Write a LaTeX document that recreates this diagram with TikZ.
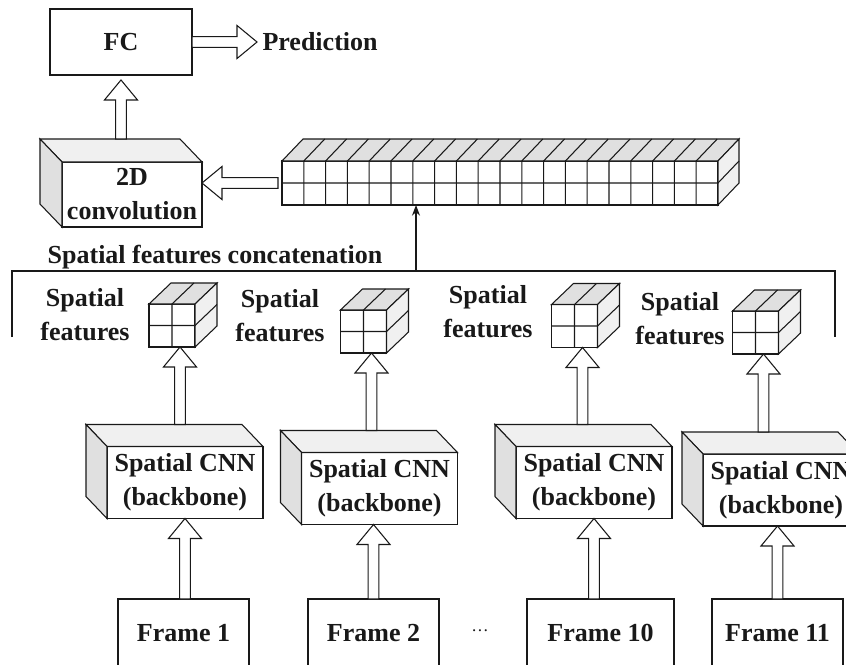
\documentclass[tikz,border=0pt]{standalone}
\usepackage{fontspec}
\setmainfont{Liberation Serif}
\usepackage{xcolor}
\usepackage{tikz}
\usetikzlibrary{arrows.meta, positioning, calc}
\definecolor{faceTop}{RGB}{224,224,224}
\definecolor{faceSide}{RGB}{240,240,240}
\definecolor{lineInk}{RGB}{25,25,25}
\newdimen\pxu \pxu=0.75pt

% hollow block arrow from #1 to the tip #2
\newcommand{\fatarrow}[2]{%
  \coordinate (fa-h) at ($(#2)!15pt!(#1)$);
  \draw[hollow] ($(#1)!4pt!90:(#2)$) -- ($(fa-h)!4pt!90:(#2)$)
    -- ($(fa-h)!12.4pt!90:(#2)$) -- (#2) -- ($(fa-h)!12.4pt!-90:(#2)$)
    -- ($(fa-h)!4pt!-90:(#2)$) -- ($(#1)!4pt!-90:(#2)$) -- cycle;}

% top and right faces of a cell block, front face is node #1
\newcommand{\gridblock}[4]{%
  \draw[fill=faceTop] (#1.north west) -- (#1.north east) -- ++(#4)
    -- ($(#1.north west)+(#4)$) -- cycle;
  \draw[fill=faceSide] (#1.north east) -- (#1.south east) -- ++(#4)
    -- ($(#1.north east)+(#4)$) -- cycle;
  \pgfmathtruncatemacro\lastc{#2-1}
  \pgfmathtruncatemacro\lastr{#3-1}
  \foreach \c in {1,...,\lastc}
    \draw ($(#1.south west)!{\c/#2}!(#1.south east)$)
      -- ($(#1.north west)!{\c/#2}!(#1.north east)$) -- ++(#4);
  \foreach \r in {1,...,\lastr}
    \draw ($(#1.north west)!{\r/#3}!(#1.south west)$)
      -- ($(#1.north east)!{\r/#3}!(#1.south east)$) -- ++(#4);}

% top and left faces of a solid box, front face is node #1
\newcommand{\slab}[2]{%
  \draw[fill=faceSide] (#1.north west) -- (#1.north east) -- ++(#2)
    -- ($(#1.north west)+(#2)$) -- cycle;
  \draw[fill=faceTop] (#1.north west) -- (#1.south west) -- ++(#2)
    -- ($(#1.north west)+(#2)$) -- cycle;}

\begin{document}
\begin{tikzpicture}[x=0.75pt,y=-0.75pt,line width=0.8pt,color=lineInk,
  font=\bfseries\fontsize{19.5}{25.5}\selectfont,
  boxnode/.style={draw,fill=white,inner sep=0pt,outer sep=0pt,align=center},
  hollow/.style={draw,fill=white,line join=miter},
  cnnbox/.style={boxnode,minimum width=156\pxu,minimum height=72\pxu},
  framebox/.style={boxnode,minimum width=131\pxu,minimum height=68\pxu},
  cube/.style={boxnode,minimum width=46\pxu,minimum height=43\pxu},
  thinarrow/.style={-{Stealth[length=8pt,width=6pt]},line width=0.9pt}]
\useasboundingbox (0,0) rectangle (846,664);
\clip (0,0) rectangle (846,664);

% ===== Classifier head =====
\node[boxnode,minimum width=142\pxu,minimum height=66\pxu] (fc) at (121,42) {FC};
\node[anchor=west,inner sep=0pt] (pred) at (262,42) {Prediction};
\coordinate (predtip) at ($(pred.west)+(-5,0)$);
\fatarrow{fc.east}{predtip}

\node[boxnode,minimum width=140\pxu,minimum height=65\pxu] (conv) at (132,194.5)
  {2D\\convolution};
\slab{conv}{-22,-23}
\coordinate (convtop) at ($(conv.north)+(-11,-23)$);
\coordinate (fcin) at ($(fc.south)+(0,5)$);
\fatarrow{convtop}{convtop |- fcin}

% ===== Concatenated features =====
\node[boxnode,minimum width=436\pxu,minimum height=44\pxu] (tensor) at (500,183) {};
\gridblock{tensor}{20}{2}{21,-22}
\coordinate (tensorout) at ($(tensor.west)+(-4,0)$);
\fatarrow{tensorout}{conv.east |- tensor.west}

\node (concat) at (215,257) {Spatial features concatenation};
\coordinate (joinL) at (12,337);
\coordinate (joinR) at (835,337);
\draw (joinL) -- ++(0,-66) -| (joinR);
\coordinate (joinmid) at (416,271);
\draw[thinarrow] (joinmid) -- (joinmid |- tensor.south);

% ===== Per-frame branches =====
\foreach \k/\cx/\cy/\lx/\ly in {1/172/325.5/85/314.5, 2/363.5/331.5/280/316,
                                3/574.5/326/488/311.5, 4/755.5/332.5/680/319} {
  \node[cube] (sf\k) at (\cx,\cy) {};
  \gridblock{sf\k}{2}{2}{22,-21}
  \node[align=center,inner sep=0pt] (lab\k) at (\lx,\ly) {Spatial\\features};
}

\foreach \k/\bx/\by in {1/185/482.5, 2/379.5/488.5, 3/594/482.5, 4/781/490} {
  \node[cnnbox] (cnn\k) at (\bx,\by) {Spatial CNN\\(backbone)};
  \slab{cnn\k}{-21,-22}
  \coordinate (tip\k) at ($(sf\k.south)+(8,0)$);
  \coordinate (tail\k) at ($(cnn\k.north)+(0,-22)$);
  \fatarrow{tip\k |- tail\k}{tip\k}
}

\node[framebox] (fr1) at (183.5,633) {Frame 1};
\node[framebox] (fr2) at (373.5,633) {Frame 2};
\node[framebox,minimum width=147\pxu] (fr10) at (600.5,633) {Frame 10};
\node[framebox] (fr11) at (777.5,633) {Frame 11};
\node (dots) at (480,631) {\mdseries\fontsize{13}{15}\selectfont\ldots};

\fatarrow{cnn1.south |- fr1.north}{cnn1.south}
\fatarrow{fr2.north}{fr2.north |- cnn2.south}
\fatarrow{cnn3.south |- fr10.north}{cnn3.south}
\fatarrow{fr11.north}{fr11.north |- cnn4.south}
\end{tikzpicture}
\end{document}
